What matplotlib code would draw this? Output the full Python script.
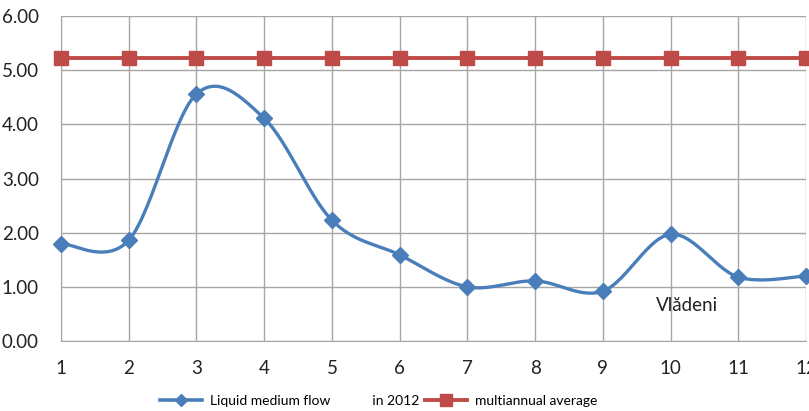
import numpy as np
import matplotlib.pyplot as plt
from matplotlib.lines import Line2D

# ── Data ──────────────────────────────────────────────────────────────────────
months = [1, 2, 3, 4, 5, 6, 7, 8, 9, 10, 11, 12]
flow_2012 = [1.80, 1.86, 4.56, 4.11, 2.23, 1.59, 1.00, 1.11, 0.92, 1.97, 1.18, 1.20]
multiannual = [5.22] * 12
y_ticks = [0, 1, 2, 3, 4, 5, 6]

BLUE = "#4A7EBB"
RED = "#BE4B48"
GRID = "#A6A6A6"

plt.rcParams["font.family"] = ["Lato", "DejaVu Sans"]


def smooth(x, y, n=30):
    """Excel-style smoothed line: Catmull-Rom segments as cubic Beziers."""
    x = np.asarray(x, float)
    y = np.asarray(y, float)
    px = np.concatenate([[x[0]], x, [x[-1]]])
    py = np.concatenate([[y[0]], y, [y[-1]]])
    t = np.linspace(0, 1, n)[:, None]
    xs, ys = [], []
    for i in range(1, len(px) - 2):
        p0 = np.array([px[i], py[i]])
        p3 = np.array([px[i + 1], py[i + 1]])
        c1 = p0 + (np.array([px[i + 1], py[i + 1]]) - np.array([px[i - 1], py[i - 1]])) / 6
        c2 = p3 - (np.array([px[i + 2], py[i + 2]]) - p0) / 6
        b = ((1 - t) ** 3) * p0 + 3 * ((1 - t) ** 2) * t * c1 + 3 * (1 - t) * t ** 2 * c2 + t ** 3 * p3
        xs.append(b[:, 0])
        ys.append(b[:, 1])
    return np.concatenate(xs), np.concatenate(ys)


fig = plt.figure(figsize=(8.09, 4.11), dpi=100)
ax = fig.add_axes([61 / 809, 1 - 341 / 411, 745 / 809, 325 / 411])

sx, sy = smooth(months, flow_2012)
ax.plot(sx, sy, color=BLUE, lw=2.4, solid_capstyle="round", zorder=3, clip_on=False)
ax.plot(months, flow_2012, "D", color=BLUE, ms=8, zorder=4, clip_on=False)
ax.plot(months, multiannual, "-s", color=RED, lw=2.8, ms=10, zorder=4, clip_on=False)

ax.set_xlim(1, 12)
ax.set_ylim(0, 6)
ax.set_xticks(months)
ax.set_yticks(y_ticks)
ax.set_yticklabels([f"{v:.2f}" for v in y_ticks])
ax.tick_params(length=0, labelsize=13.5, colors="#222222", pad=14)
ax.tick_params(axis="y", pad=16)
ax.grid(True, color=GRID, lw=1)
for side in ["top", "right"]:
    ax.spines[side].set_visible(False)
for side in ["left", "bottom"]:
    ax.spines[side].set_color(GRID)

ax.text(9.78, 0.66, "Vlădeni", fontsize=13.5, va="center", ha="left", color="#222222")

handles = [
    Line2D([], [], color=BLUE, lw=2.6, marker="D", ms=6),
    Line2D([], [], color=RED, lw=2.8, marker="s", ms=8),
]
fig.legend(handles, ["Liquid medium flow            in 2012", "multiannual average"],
           loc="center", bbox_to_anchor=(0.468, 0.025), ncol=2, frameon=False,
           fontsize=10, handlelength=3.0, columnspacing=0.4, handletextpad=0.6)

fig.savefig("out.png", dpi=100)
